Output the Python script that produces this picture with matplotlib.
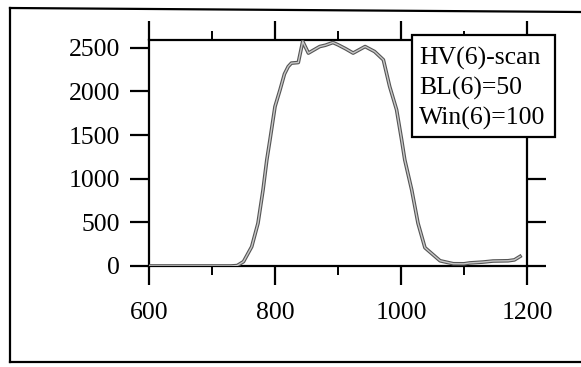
import matplotlib
matplotlib.use("Agg")
import matplotlib.pyplot as plt
import matplotlib.patheffects as pe
from matplotlib.lines import Line2D
from matplotlib.patches import Rectangle
from matplotlib.ticker import MultipleLocator

# data
wavelength = [600, 650, 700, 730, 740, 750, 763, 773, 781, 787, 792, 800, 808,
              815, 821, 826, 837, 844, 853, 871, 880, 892, 900, 912, 924, 943,
              958, 972, 982, 993, 1001, 1006, 1017, 1027, 1038, 1062, 1083,
              1100, 1109, 1130, 1146, 1170, 1180, 1189]
counts = [0, 0, 0, 0, 5, 50, 221, 490, 872, 1216, 1445, 1827, 2019,
          2200, 2286, 2325, 2332, 2573, 2440, 2515, 2530, 2561, 2535, 2490,
          2440, 2515, 2458, 2363, 2057, 1790, 1445, 1216, 872, 490, 210, 60,
          26, 25, 35, 45, 57, 60, 70, 110]

x_ticks = [600, 800, 1000, 1200]
y_ticks = [0, 500, 1000, 1500, 2000, 2500]
legend_lines = ["HV(6)-scan", "BL(6)=50", "Win(6)=100"]

plt.rcParams['font.family'] = ['Liberation Serif', 'DejaVu Serif']

fig = plt.figure(figsize=(5.81, 3.67), dpi=100)
W, H = 581, 367
ax = fig.add_axes([149 / W, (H - 266) / H, (527 - 149) / W, (266 - 40) / H])

ax.plot(wavelength, counts, color='#c8c8c8', lw=1.0, zorder=3,
        path_effects=[pe.Stroke(linewidth=2.6, foreground='#555555'), pe.Normal()])

ax.set_xlim(600, 1200)
ax.set_ylim(0, 2590)
ax.set_xticks(x_ticks)
ax.set_yticks(y_ticks)
ax.xaxis.set_minor_locator(MultipleLocator(100))

for s in ax.spines.values():
    s.set_linewidth(1.6)

ax.tick_params(which='major', direction='out', length=13.7, width=1.6,
               top=True, right=True, labelsize=18.5, pad=7)
ax.tick_params(which='minor', direction='out', length=6.5, width=1.4,
               top=True, bottom=True)
ax.tick_params(axis='x', pad=12)

# legend box (drawn over the top/right spines like in the original)
fig.add_artist(Rectangle((412 / W, (H - 137) / H), (555 - 412) / W, (137 - 35) / H,
                         transform=fig.transFigure, facecolor='white',
                         edgecolor='black', linewidth=1.6, zorder=5))
for i, line in enumerate(legend_lines):
    fig.text(419 / W, (H - 65 - 30 * i) / H, line, fontsize=18.5,
             ha='left', va='baseline', zorder=6)

# outer frame of the scanned figure
frame = dict(color='black', lw=1.6, transform=fig.transFigure)
fig.add_artist(Line2D([10 / W, 10 / W], [(H - 8) / H, (H - 362) / H], **frame))
fig.add_artist(Line2D([10 / W, 1.0], [(H - 8) / H, (H - 12) / H], **frame))
fig.add_artist(Line2D([10 / W, 1.0], [(H - 362) / H, (H - 362) / H], **frame))

fig.savefig("out.png", dpi=100)
